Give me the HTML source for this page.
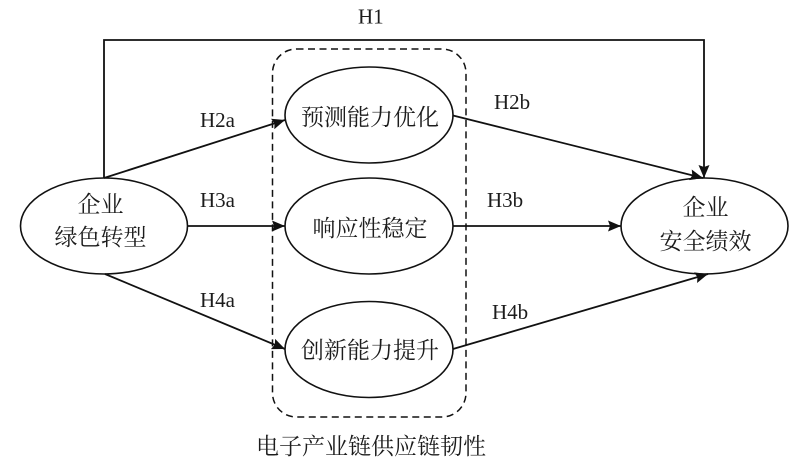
<!DOCTYPE html>
<html>
<head>
<meta charset="utf-8">
<style>
html,body{margin:0;padding:0;background:#fff;}
svg{display:block;}
text{fill:#1c1c1c;}
.c{font-family:"Liberation Serif","Noto Serif CJK SC",serif;font-size:23px;text-anchor:middle;}
.l{font-family:"Liberation Serif",serif;font-size:21px;}
.s{fill:none;stroke:#111;stroke-width:1.6;}
.w{fill:none;stroke:#111;stroke-width:1.8;}
</style>
</head>
<body>
<svg width="800" height="468" viewBox="0 0 800 468" xmlns="http://www.w3.org/2000/svg">
<defs>
<marker id="a" markerWidth="15" markerHeight="12" refX="13" refY="6" orient="auto" markerUnits="userSpaceOnUse">
<path d="M0,0.5 L13,6 L0,11.5 L2,6 Z" fill="#111"/>
</marker>
</defs>
<rect x="272.5" y="49" width="193.5" height="368" rx="24" ry="24" fill="none" stroke="#111" stroke-width="1.5" stroke-dasharray="7 4.5"/>
<ellipse class="s" cx="104" cy="226" rx="83.5" ry="48"/>
<ellipse class="s" cx="369" cy="115" rx="84" ry="48"/>
<ellipse class="s" cx="369" cy="226" rx="84" ry="48"/>
<ellipse class="s" cx="369" cy="349.5" rx="84" ry="48"/>
<ellipse class="s" cx="704.5" cy="226" rx="83.5" ry="48"/>
<path class="w" d="M104,178 V40 H704 V178" marker-end="url(#a)"/>
<line class="w" x1="104" y1="178" x2="285" y2="120" marker-end="url(#a)"/>
<line class="w" x1="187" y1="226" x2="285" y2="226" marker-end="url(#a)"/>
<line class="w" x1="105" y1="274" x2="285" y2="349" marker-end="url(#a)"/>
<line class="w" x1="453" y1="115.5" x2="703" y2="178" marker-end="url(#a)"/>
<line class="w" x1="453" y1="226" x2="621" y2="226" marker-end="url(#a)"/>
<line class="w" x1="453" y1="349" x2="708" y2="274" marker-end="url(#a)"/>
<text class="l" x="358" y="23.5">H1</text>
<text class="l" x="200" y="127">H2a</text>
<text class="l" x="200" y="207">H3a</text>
<text class="l" x="200" y="307">H4a</text>
<text class="l" x="494" y="109">H2b</text>
<text class="l" x="487" y="207">H3b</text>
<text class="l" x="492" y="319">H4b</text>
<text class="c" x="100.5" y="212">企业</text>
<text class="c" x="100.5" y="245">绿色转型</text>
<text class="c" x="370" y="125">预测能力优化</text>
<text class="c" x="370" y="236">响应性稳定</text>
<text class="c" x="370" y="358">创新能力提升</text>
<text class="c" x="705.5" y="215">企业</text>
<text class="c" x="705.5" y="249">安全绩效</text>
<text class="c" x="371" y="454">电子产业链供应链韧性</text>
</svg>
</body>
</html>
